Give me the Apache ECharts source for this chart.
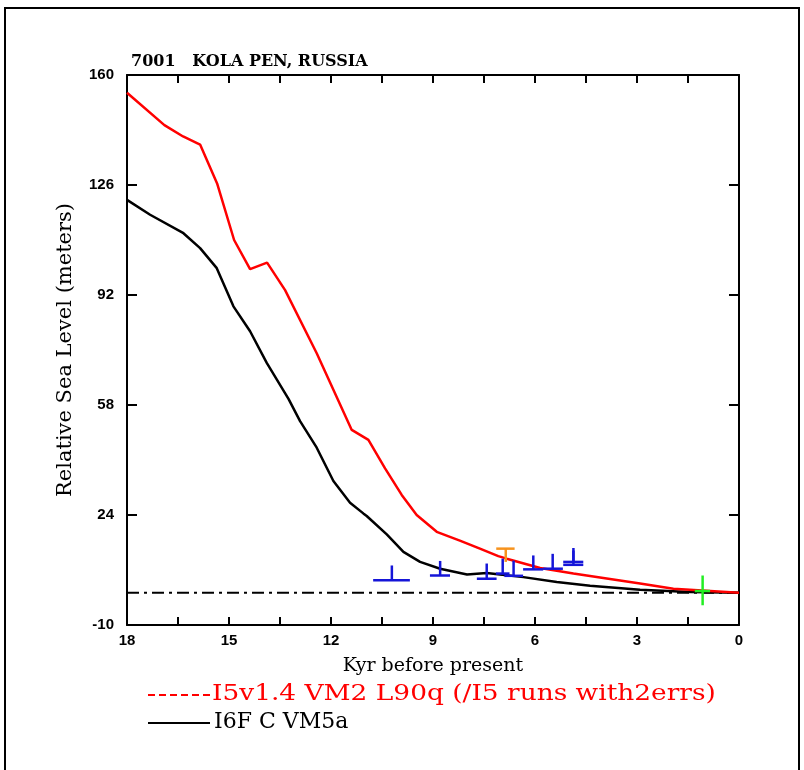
<!DOCTYPE html>
<html>
<head>
<meta charset="utf-8">
<script src="https://cdn.jsdelivr.net/npm/echarts@6/dist/echarts.min.js"></script>
<style>
  html, body { margin: 0; padding: 0; background: #ffffff; }
  #chart { width: 804px; height: 770px; }
</style>
</head>
<body>
<div id="chart"></div>
<script>
// model curves (age in kyr BP, relative sea level in m)
const redAge = [18, 16.9, 16.35, 15.85, 15.35, 14.85, 14.38, 13.88, 13.35, 12.42, 11.39, 10.9, 10.41, 9.92, 9.48, 8.89, 8.21, 7.62, 7.08, 6.83, 5.85, 4.87, 3.99, 2.91, 1.93, 0]
const redRsl = [154.5, 144.5, 141, 138.5, 126.5, 109, 100, 102, 93.5, 74, 50.3, 47.2, 38.4, 30.2, 24, 18.8, 16.1, 13.6, 11.3, 10.5, 7.6, 5.9, 4.5, 2.8, 1.2, 0]
const blackAge = [18, 17.32, 16.34, 15.85, 15.36, 14.87, 14.38, 13.89, 13.25, 12.91, 12.42, 11.93, 11.44, 11.05, 10.95, 10.36, 9.87, 9.38, 8.79, 8.0, 7.42, 7.03, 6.34, 5.36, 4.38, 2.91, 1.44, 0]
const blackRsl = [121.4, 116.8, 111.1, 106.5, 100.3, 88.5, 80.8, 71, 59.9, 53, 44.8, 34.5, 27.8, 24.5, 23.7, 18.0, 12.6, 9.5, 7.4, 5.6, 6.1, 5.6, 4.8, 3.3, 2.1, 0.9, 0.2, 0]

// observations: age range, age, value of bar, vertical extent
const blueAgeLo = [10.76, 9.09, 7.71, 7.15, 6.90, 6.35, 5.76, 5.17, 5.17]
const blueAgeHi = [9.68, 8.50, 7.13, 6.75, 6.35, 5.76, 5.18, 4.58, 4.58]
const blueAge = [10.21, 8.79, 7.42, 6.95, 6.63, 6.05, 5.48, 4.87, 4.87]
const blueBase = [3.8, 5.3, 4.3, 5.9, 5.2, 7.2, 7.4, 9.5, 8.6]
const blueTop = [8.4, 9.8, 9.0, 10.5, 9.9, 11.5, 12.0, 13.8, 13.0]

const orangeAgeLo = [7.14]
const orangeAgeHi = [6.60]
const orangeAge = [6.86]
const orangeBase = [9.5]
const orangeTop = [13.6]

const greenAgeLo = [1.30]
const greenAgeHi = [0.85]
const greenAge = [1.07]
const greenVal = [0.5]
const greenLo = [-3.9]
const greenHi = [5.3]

const yTicks = [-10, 24, 58, 92, 126, 160]

const chart = echarts.init(document.getElementById('chart'))

function pairs (xs, ys) {
  return xs.map((x, i) => [x, ys[i]])
}

// row: [ageLo, ageHi, age, barValue, vLo, vHi]
function renderMark (color) {
  return function (params, api) {
    const h0 = api.coord([api.value(0), api.value(3)])
    const h1 = api.coord([api.value(1), api.value(3)])
    const v0 = api.coord([api.value(2), api.value(4)])
    const v1 = api.coord([api.value(2), api.value(5)])
    const st = { stroke: color, lineWidth: 2.5 }
    return {
      type: 'group',
      children: [
        { type: 'line', shape: { x1: h0[0], y1: h0[1], x2: h1[0], y2: h1[1] }, style: st },
        { type: 'line', shape: { x1: v0[0], y1: v0[1], x2: v1[0], y2: v1[1] }, style: st }
      ]
    }
  }
}

const blueRows = blueAge.map((a, i) => [blueAgeLo[i], blueAgeHi[i], a, blueBase[i], blueBase[i], blueTop[i]])
const orangeRows = orangeAge.map((a, i) => [orangeAgeLo[i], orangeAgeHi[i], a, orangeTop[i], orangeBase[i], orangeTop[i]])
const greenRows = greenAge.map((a, i) => [greenAgeLo[i], greenAgeHi[i], a, greenVal[i], greenLo[i], greenHi[i]])

const tickFont = { color: '#000', fontFamily: 'Liberation Sans', fontWeight: 'bold', fontSize: 15 }
const axisLine = { onZero: false, lineStyle: { color: '#000', width: 2 } }
const tickStyle = { color: '#000', width: 2 }

const option = {
  animation: false,
  backgroundColor: '#ffffff',
  grid: { left: 127, right: 65, top: 75, bottom: 145 },
  xAxis: [
    {
      type: 'value',
      min: 0,
      max: 18,
      interval: 1.5,
      inverse: true,
      position: 'bottom',
      name: 'Kyr before present',
      nameLocation: 'middle',
      nameGap: 32,
      nameTextStyle: { color: '#000', fontFamily: 'DejaVu Serif', fontSize: 19 },
      axisLine: axisLine,
      axisTick: { inside: true, length: 8, lineStyle: tickStyle },
      axisLabel: Object.assign({
        margin: 8,
        formatter: v => (Math.abs(v % 3) < 1e-6 ? String(v) : '')
      }, tickFont),
      splitLine: { show: false }
    },
    {
      type: 'value',
      min: 0,
      max: 18,
      interval: 1.5,
      inverse: true,
      position: 'top',
      axisLine: axisLine,
      axisTick: { inside: true, length: 8, lineStyle: tickStyle },
      axisLabel: { show: false },
      splitLine: { show: false }
    }
  ],
  yAxis: [
    {
      type: 'value',
      min: -10,
      max: 160,
      interval: 34,
      position: 'left',
      name: 'Relative Sea Level (meters)',
      nameLocation: 'middle',
      nameGap: 51,
      nameRotate: 90,
      nameTextStyle: { color: '#000', fontFamily: 'DejaVu Serif', fontSize: 21 },
      axisLine: axisLine,
      axisTick: { inside: true, length: 10, lineStyle: tickStyle },
      axisLabel: Object.assign({
        margin: 13,
        formatter: v => (yTicks.indexOf(v) >= 0 ? String(v) : '')
      }, tickFont),
      splitLine: { show: false }
    },
    {
      type: 'value',
      min: -10,
      max: 160,
      interval: 34,
      position: 'right',
      axisLine: axisLine,
      axisTick: { inside: true, length: 10, lineStyle: tickStyle },
      axisLabel: { show: false },
      splitLine: { show: false }
    }
  ],
  graphic: [
    {
      type: 'rect',
      shape: { x: 5, y: 8, width: 794, height: 775 },
      style: { fill: 'none', stroke: '#000', lineWidth: 2 },
      z: -1
    },
    {
      type: 'text',
      left: 131,
      top: 54,
      style: { text: '7001   KOLA PEN, RUSSIA', fill: '#000', font: 'bold 16px "DejaVu Serif"' }
    },
    {
      type: 'line',
      shape: { x1: 148, y1: 695, x2: 210, y2: 695 },
      style: { stroke: '#ff0000', lineWidth: 2, lineDash: [7, 4] }
    },
    {
      type: 'text',
      x: 212,
      y: 683,
      scaleX: 1.2,
      style: { text: 'I5v1.4 VM2 L90q (/I5 runs with2errs)', fill: '#ff0000', font: '22px "DejaVu Serif"' }
    },
    {
      type: 'line',
      shape: { x1: 148, y1: 723, x2: 210, y2: 723 },
      style: { stroke: '#000', lineWidth: 2 }
    },
    {
      type: 'text',
      left: 214,
      top: 711,
      style: { text: 'I6F C VM5a', fill: '#000', font: '22px "DejaVu Serif"' }
    }
  ],
  series: [
    {
      name: 'zero',
      type: 'line',
      data: [[18, 0], [0, 0]],
      symbol: 'none',
      lineStyle: { color: '#000', width: 2, type: [12, 5, 3, 5] },
      z: 1
    },
    {
      name: 'I6F C VM5a',
      type: 'line',
      data: pairs(blackAge, blackRsl),
      symbol: 'none',
      lineStyle: { color: '#000', width: 2.5 },
      z: 3
    },
    {
      name: 'I5v1.4 VM2 L90q',
      type: 'line',
      data: pairs(redAge, redRsl),
      symbol: 'none',
      lineStyle: { color: '#ff0000', width: 2.5 },
      z: 3
    },
    {
      name: 'blue',
      type: 'custom',
      renderItem: renderMark('#1515d8'),
      encode: { x: [0, 1, 2], y: [3, 4, 5] },
      data: blueRows,
      z: 4
    },
    {
      name: 'orange',
      type: 'custom',
      renderItem: renderMark('#f7931e'),
      encode: { x: [0, 1, 2], y: [3, 4, 5] },
      data: orangeRows,
      z: 4
    },
    {
      name: 'green',
      type: 'custom',
      renderItem: renderMark('#22ee22'),
      encode: { x: [0, 1, 2], y: [3, 4, 5] },
      data: greenRows,
      z: 5
    }
  ]
}

chart.setOption(option)
</script>
</body>
</html>
